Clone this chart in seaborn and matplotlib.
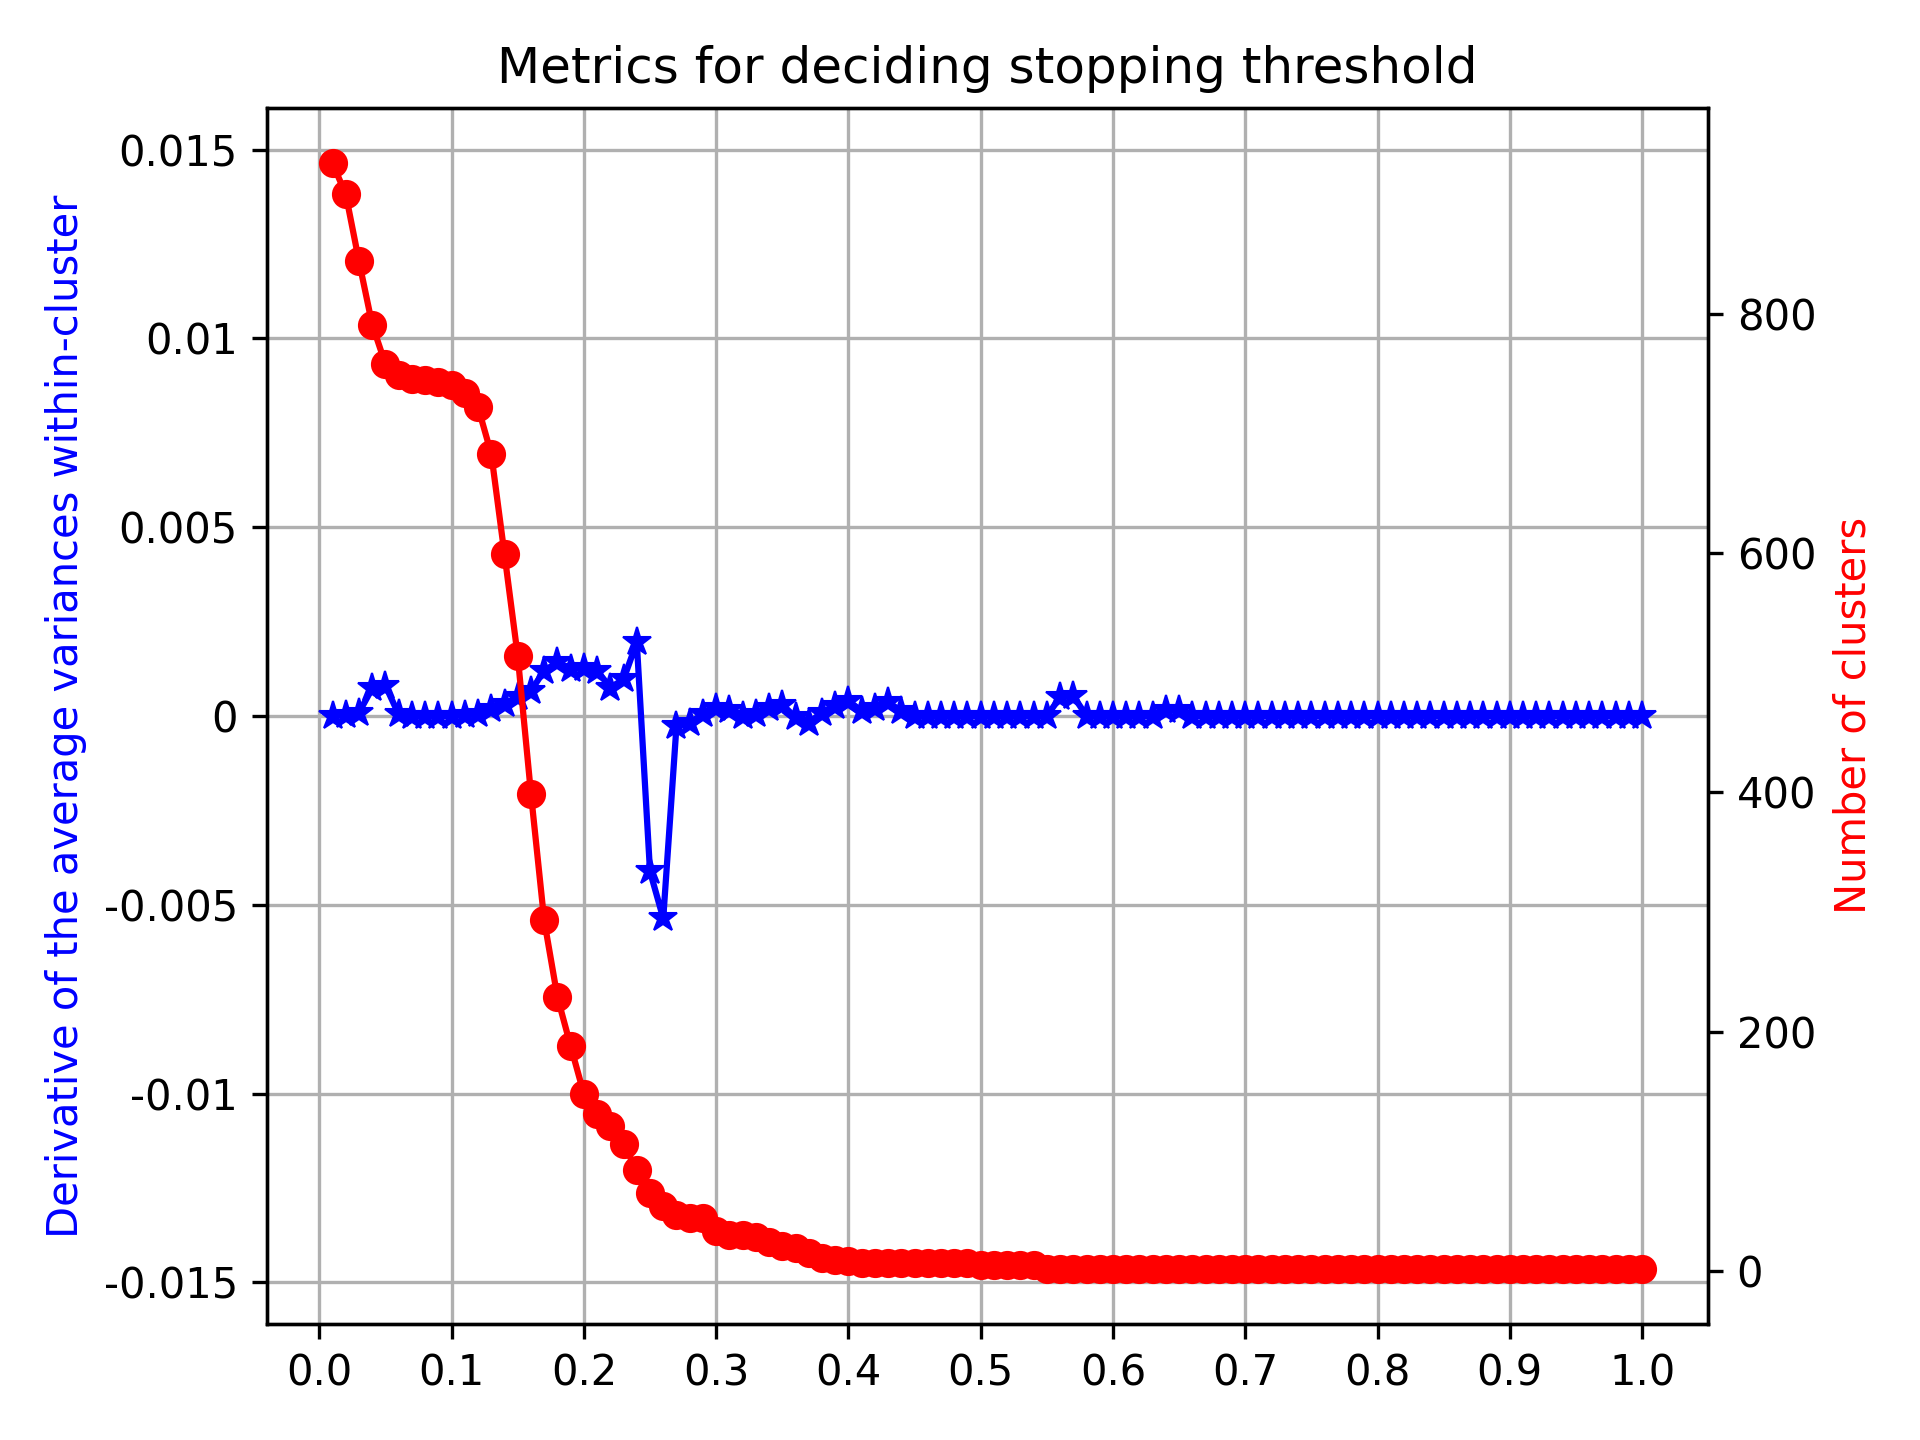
import numpy as np
import matplotlib
matplotlib.use("Agg")
import matplotlib.pyplot as plt
import seaborn as sns

# threshold values 0.01 .. 1.00
thresholds = np.round(np.arange(1, 101) * 0.01, 2)

# derivative of the average within-cluster variances (left axis)
derivada = [
    0.0, 0.00002, 0.00009, 0.00073, 0.0008, 0.00004, 0.0, 0.0, 0.0, 0.0,
    0.00002, 0.00004, 0.00018, 0.00031, 0.00049, 0.00066, 0.0012, 0.00142, 0.00124, 0.00128,
    0.0012, 0.00075, 0.00097, 0.00195, -0.00412, -0.00536, -0.00027, -0.00018, 0.00005, 0.00022,
    0.00016, 0.0, 0.00005, 0.00022, 0.0003, -0.00004, -0.00018, 0.00009, 0.00027, 0.0004,
    0.00013, 0.00022, 0.00036, 0.00013, 0.0, 0.0, 0.0, 0.0, 0.0, 0.0,
    0.0, 0.0, 0.0, 0.0, 0.0, 0.00049, 0.00053, 0.0, 0.0, 0.0,
    0.0, 0.0, 0.0, 0.00015, 0.00015, 0.0, 0.0, 0.0, 0.0, 0.0,
    0.0, 0.0, 0.0, 0.0, 0.0, 0.0, 0.0, 0.0, 0.0, 0.0,
    0.0, 0.0, 0.0, 0.0, 0.0, 0.0, 0.0, 0.0, 0.0, 0.0,
    0.0, 0.0, 0.0, 0.0, 0.0, 0.0, 0.0, 0.0, 0.0, 0.0,
]

# number of clusters (right axis)
n_clusters = [
    926, 900, 844, 791, 758, 749, 746, 745, 743, 741,
    734, 722, 683, 599, 514, 399, 293, 229, 188, 148,
    131, 121, 106, 84, 65, 54, 47, 44, 44, 33,
    30, 30, 28, 24, 21, 19, 15, 11, 9, 8,
    7, 7, 7, 7, 7, 7, 7, 7, 7, 5,
    5, 5, 5, 5, 2, 2, 2, 2, 2, 2,
    2, 2, 2, 2, 2, 2, 2, 2, 2, 2,
    2, 2, 2, 2, 2, 2, 2, 2, 2, 2,
    2, 2, 2, 2, 2, 2, 2, 2, 2, 2,
    2, 2, 2, 2, 2, 2, 2, 2, 2, 2,
]

ticks_esq = [-0.015, -0.01, -0.005, 0, 0.005, 0.01, 0.015]
labels_esq = ['-0.015', '-0.01', '-0.005', '0', '0.005', '0.01', '0.015']

fig, ax1 = plt.subplots(figsize=(6.4, 4.8), dpi=300)

sns.lineplot(x=thresholds, y=derivada, ax=ax1, color='b', marker='*',
             markersize=7, markeredgecolor='b', markeredgewidth=0.5)
ax1.set_ylabel('Derivative of the average variances within-cluster', color='b')
ax1.set_ylim(-0.0161, 0.0161)
ax1.set_yticks(ticks_esq)
ax1.set_yticklabels(labels_esq)
ax1.set_xticks(np.round(np.arange(0, 1.01, 0.1), 1))
ax1.grid(True)

ax2 = ax1.twinx()
sns.lineplot(x=thresholds, y=n_clusters, ax=ax2, color='r', marker='o',
             markersize=6.5, markeredgecolor='r', markeredgewidth=0.5)
ax2.set_ylabel('Number of clusters', color='r')

ax1.set_title('Metrics for deciding stopping threshold')

plt.tight_layout()
plt.savefig("out.png")
